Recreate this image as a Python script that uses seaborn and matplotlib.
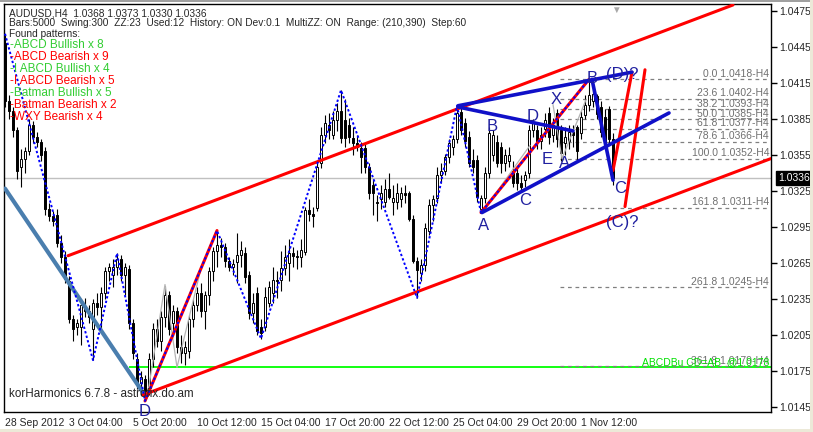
import numpy as np
import pandas as pd
import matplotlib
matplotlib.use('Agg')
import matplotlib.pyplot as plt
from matplotlib.patches import Rectangle
import seaborn as sns

# Estilo
sns.set_style("white")
plt.rcParams['font.family'] = ['Liberation Sans', 'DejaVu Sans']

# ---------------------------
# Datos: velas H4 AUDUSD (pips por encima de 1.0000)
# ---------------------------
opens = [
    448, 400, 392, 376, 345, 352, 358, 380, 370, 366,
    358, 310, 304, 305, 282, 270, 250, 218, 212, 212,
    228, 225, 210, 232, 228, 240, 258, 255, 262, 268,
    255, 260, 215, 185, 165, 168, 158, 185, 210, 200,
    220, 238, 215, 225, 195, 190, 192, 218, 230, 240,
    225, 238, 258, 275, 280, 278, 267, 262, 266, 272,
    273, 255, 223, 240, 212, 212, 232, 240, 251, 251,
    261, 265, 273, 271, 270, 274, 309, 306, 311, 348,
    372, 380, 372, 384, 392, 384, 380, 369, 365, 361,
    361, 345, 330, 316, 318, 316, 327, 316, 316, 318,
    323, 323, 302, 267, 257, 263, 292, 313, 319, 338,
    342, 353, 362, 368, 391, 382, 370, 351, 351, 310,
    319, 340, 355, 366, 362, 348, 350, 342, 340, 332,
    334, 340, 376, 376, 367, 377, 390, 372, 390, 376,
    365, 367, 374, 378, 373, 388, 397, 400, 404, 395,
    387, 393, 368]
highs = [
    456, 405, 395, 378, 360, 362, 385, 383, 374, 368,
    362, 315, 308, 310, 288, 275, 254, 222, 218, 235,
    236, 230, 235, 240, 245, 262, 265, 268, 273, 272,
    265, 263, 218, 190, 175, 172, 190, 215, 218, 225,
    246, 242, 230, 228, 205, 200, 222, 235, 245, 248,
    242, 262, 278, 292, 286, 282, 270, 268, 290, 283,
    278, 258, 240, 245, 218, 245, 250, 262, 258, 275,
    280, 285, 278, 276, 285, 312, 318, 312, 350, 378,
    388, 390, 392, 398, 409, 402, 386, 378, 372, 366,
    364, 348, 335, 322, 330, 335, 340, 330, 332, 328,
    330, 325, 305, 270, 268, 298, 318, 322, 345, 348,
    356, 368, 372, 396, 394, 386, 375, 360, 355, 322,
    345, 378, 376, 372, 366, 360, 362, 350, 345, 338,
    342, 380, 385, 380, 378, 390, 395, 386, 393, 380,
    378, 380, 380, 380, 392, 405, 418, 412, 406, 400,
    393, 396, 373]
lows = [
    395, 385, 370, 335, 328, 340, 355, 365, 362, 350,
    305, 300, 296, 278, 265, 248, 215, 200, 205, 197,
    220, 215, 184, 222, 208, 235, 250, 245, 255, 250,
    238, 210, 185, 160, 155, 150, 155, 178, 195, 192,
    212, 205, 205, 190, 182, 180, 186, 212, 225, 220,
    210, 230, 250, 262, 270, 262, 258, 255, 248, 262,
    248, 218, 215, 205, 202, 208, 228, 232, 236, 242,
    255, 250, 262, 260, 262, 272, 300, 295, 308, 344,
    365, 368, 368, 375, 365, 362, 365, 355, 358, 340,
    340, 318, 305, 300, 310, 312, 318, 305, 310, 312,
    315, 300, 265, 236, 250, 258, 288, 300, 315, 332,
    338, 348, 355, 365, 372, 362, 345, 340, 316, 307,
    315, 336, 350, 345, 340, 342, 345, 328, 326, 326,
    328, 336, 370, 360, 360, 370, 364, 366, 362, 350,
    355, 360, 362, 350, 368, 385, 392, 395, 385, 370,
    362, 365, 330]
closes = [
    400, 392, 376, 342, 352, 358, 380, 370, 366, 355,
    310, 304, 300, 282, 270, 252, 218, 210, 215, 230,
    225, 220, 232, 228, 240, 258, 262, 262, 268, 255,
    262, 215, 190, 165, 170, 158, 185, 210, 200, 220,
    238, 210, 225, 195, 190, 195, 218, 230, 240, 225,
    238, 258, 275, 280, 278, 267, 262, 264, 272, 276,
    253, 223, 232, 208, 207, 237, 245, 251, 250, 261,
    270, 273, 271, 270, 276, 309, 306, 304, 345, 372,
    382, 376, 384, 392, 369, 369, 370, 365, 362, 353,
    345, 323, 323, 315, 323, 327, 320, 319, 323, 323,
    322, 302, 267, 259, 263, 294, 313, 318, 338, 342,
    353, 365, 368, 390, 376, 367, 348, 345, 320, 319,
    340, 373, 372, 348, 348, 355, 355, 332, 332, 328,
    338, 376, 382, 367, 372, 384, 370, 380, 368, 357,
    370, 374, 372, 358, 387, 397, 405, 406, 389, 374,
    366, 368, 336]

# Eje X
tick_bars = [0, 16, 32, 48, 64, 80, 96, 112, 128, 144]
tick_labels = ["28 Sep 2012", "3 Oct 04:00", "5 Oct 20:00", "10 Oct 12:00",
               "15 Oct 04:00", "17 Oct 20:00", "22 Oct 12:00", "25 Oct 04:00",
               "29 Oct 20:00", "1 Nov 12:00"]
price_ticks = [1.0145, 1.0175, 1.0205, 1.0235, 1.0265, 1.0295, 1.0325,
               1.0355, 1.0385, 1.0415, 1.0445, 1.0475]

# ZigZag (barra, pips)
zz_bars = [0, 22, 28, 35, 53, 64, 84, 103, 113, 119, 146]
zz_pips = [456, 184, 273, 150, 292, 202, 409, 236, 396, 307, 418]

# Canal y lineas de tendencia (barra, pips)
chan_up_bars, chan_up_pips = [15.75, 182], [271, 480]
chan_dn_bars, chan_dn_pips = [34.5, 191.5], [155, 352]
trend_left_bars, trend_left_pips = [0, 34.5], [327, 157]
abcd_legs = [([35, 53], [150, 292]), ([119, 146], [307, 418])]
blue_lines = [([113.25, 156.75], [396, 424]), ([113.25, 142], [395, 375]),
              ([119.25, 166], [307, 390]), ([146.75, 152], [418, 334])]
red_proj = [([152, 156.75], [342, 424]), ([155, 160], [312, 426])]
gray_lines = [([35.5, 40, 43, 48.75], [152, 247, 178, 257]),
              ([119.25, 131.25], [307, 363]),
              ([137, 139.25, 145.25], [397, 352, 401])]

# Etiquetas de patron
point_labels = ["B", "C", "D", "X", "E", "A", "A", "B", "(D)?", "C", "(C)?", "D"]
point_bars = [121.75, 130, 132, 137.75, 135.5, 140, 119.75, 146.75, 154.25, 153.75, 154.25, 35]
point_pips = [379, 317, 387, 401, 351, 348, 296, 419, 422, 327, 299, 141]

# Niveles Fibonacci
fib_names = ["0.0", "23.6", "38.2", "50.0", "61.8", "78.6", "100.0", "161.8", "261.8", "361.8"]
fib_pips = [418, 402, 393, 385, 377, 366, 352, 311, 245, 179]

patterns = ["-ABCD Bullish x 8", "-ABCD Bearish x 9", "-I ABCD Bullish x 4",
            "-I ABCD Bearish x 5", "-Batman Bullish x 5", "-Batman Bearish x 2",
            "-WXY Bearish x 4"]
pattern_colors = ["#32CD32", "red", "#32CD32", "red", "#32CD32", "red", "red"]

last_price = 1.0336
target_price = 1.0178


def px(pips):
    return 1 + np.asarray(pips, dtype=float) / 10000.0


df = pd.DataFrame({'bar': np.arange(len(closes)), 'open': px(opens), 'high': px(highs),
                   'low': px(lows), 'close': px(closes)})
df['up'] = df['close'] >= df['open']
df['body_low'] = df[['open', 'close']].min(axis=1)
df['body_h'] = (df['close'] - df['open']).abs().clip(lower=0.00004)

fig = plt.figure(figsize=(8.13, 4.32), dpi=100)
fig.patch.set_facecolor('white')
ax = fig.add_axes([4 / 813, 20 / 432, 767 / 813, 408 / 432])
ax.set_facecolor('white')

# Marco de ventana
fig.patches.append(Rectangle((0, 1 - 2 / 432), 1, 2 / 432, transform=fig.transFigure,
                             fc='#A0A0A0', ec='none', zorder=0))
fig.patches.append(Rectangle((1 - 3 / 813, 0), 3 / 813, 1, transform=fig.transFigure,
                             fc='#ECE9D8', ec='none', zorder=0))
fig.patches.append(Rectangle((0, 0), 1, 3 / 432, transform=fig.transFigure,
                             fc='#ECE9D8', ec='none', zorder=0))

# Lineas de fondo
ax.axhline(last_price, color='#C0C0C0', lw=1, zorder=1)
ax.hlines(target_price, 31, 191.5, color='#00FF00', lw=1.3, zorder=1)
for name, p in zip(fib_names, fib_pips):
    ax.hlines(px(p), 138.75, 191.2, color='#808080', lw=0.9, linestyles=(0, (3, 3)), zorder=1)
    ax.text(191.0, px(p) + 0.00003, f"{name} {px(p):.4f}-H4", color='#707070',
            fontsize=7.5, ha='right', va='bottom', zorder=2)
ax.text(191.0, target_price + 0.00003, f"ABCDBu CD=AB  @{target_price:.4f}", color='#00E000',
        fontsize=7.5, ha='right', va='bottom', zorder=2)

# Velas
ax.vlines(df['bar'], df['low'], df['high'], color='black', lw=0.8, zorder=3)
ax.bar(df['bar'], df['body_h'], bottom=df['body_low'], width=0.62,
       color=np.where(df['up'], 'white', 'black'), edgecolor='black', linewidth=0.7, zorder=4)

# Lineas grises auxiliares
for xs, ys in gray_lines:
    ax.plot(xs, px(ys), color='#B4B4B4', lw=0.9, zorder=5)

# Canal rojo y linea izquierda
ax.plot(chan_up_bars, px(chan_up_pips), color='red', lw=2.2, zorder=6)
ax.plot(chan_dn_bars, px(chan_dn_pips), color='red', lw=2.2, zorder=6)
ax.plot(trend_left_bars, px(trend_left_pips), color='#4A7EAE', lw=3, zorder=5)

# Patas ABCD
for xs, ys in abcd_legs:
    ax.plot(xs, px(ys), color='red', lw=2.2, zorder=6)
for xs, ys in red_proj:
    ax.plot(xs, px(ys), color='red', lw=2.2, zorder=6)

# ZigZag punteado
zz = pd.DataFrame({'bar': zz_bars, 'price': px(zz_pips)})
sns.lineplot(data=zz, x='bar', y='price', sort=False, estimator=None, ax=ax,
             color='blue', lw=1.4, linestyle=(0, (1.2, 1.2)), zorder=7)

# Lineas azules gruesas
for xs, ys in blue_lines:
    ax.plot(xs, px(ys), color='#1010C8', lw=2.6, zorder=8)

# Etiquetas de puntos
for t, b, p in zip(point_labels, point_bars, point_pips):
    ax.text(b, px(p), t, color='#2020A0', fontsize=12, ha='center', va='center', zorder=9)

ax.set_xlim(-0.25, 191.5)
ax.set_ylim(1.01408, 1.04808)

ax.set_xticks(tick_bars)
ax.set_xticklabels(tick_labels, fontsize=7.5, ha='left')
ax.set_yticks(price_ticks)
ax.set_yticklabels([f"{v:.4f}" for v in price_ticks], fontsize=7.5)
ax.yaxis.tick_right()
ax.tick_params(axis='both', direction='out', length=4, width=1, color='black', pad=2)
ax.tick_params(axis='x', pad=0.5)
ax.set_xlabel("")
ax.set_ylabel("")
for s in ax.spines.values():
    s.set_color('black')
    s.set_linewidth(1)

# Precio actual
ax.annotate(f"{last_price:.4f}", xy=(1.0, last_price), xycoords=('axes fraction', 'data'),
            xytext=(5, 0), textcoords='offset points', color='white', fontsize=7.5,
            va='center', ha='left',
            bbox=dict(boxstyle='square,pad=0.2', fc='black', ec='black'))

# Marcador de desplazamiento
fig.text(616 / 813, 1 - 10 / 432, "\u25BC", color='#A8A8A8', fontsize=7, ha='center', va='center')

# Textos de cabecera
fig.text(9 / 813, 1 - 13 / 432, "AUDUSD,H4  1.0368 1.0373 1.0330 1.0336", fontsize=7.3, va='center')
fig.text(9 / 813, 1 - 23 / 432,
         "Bars:5000  Swing:300  ZZ:23  Used:12  History: ON Dev:0.1  MultiZZ: ON  Range: (210,390)  Step:60",
         fontsize=7.3, va='center')
fig.text(9 / 813, 1 - 34 / 432, "Found patterns:", fontsize=7.3, va='center')
for i, (t, c) in enumerate(zip(patterns, pattern_colors)):
    fig.text(10 / 813, 1 - (45 + 12 * i) / 432, t, color=c, fontsize=8.5, va='center')

fig.text(9 / 813, 1 - 394 / 432, "korHarmonics 6.7.8 - astrofix.do.am", fontsize=8.4, va='center')

plt.savefig("out.png", dpi=100)
plt.close()
